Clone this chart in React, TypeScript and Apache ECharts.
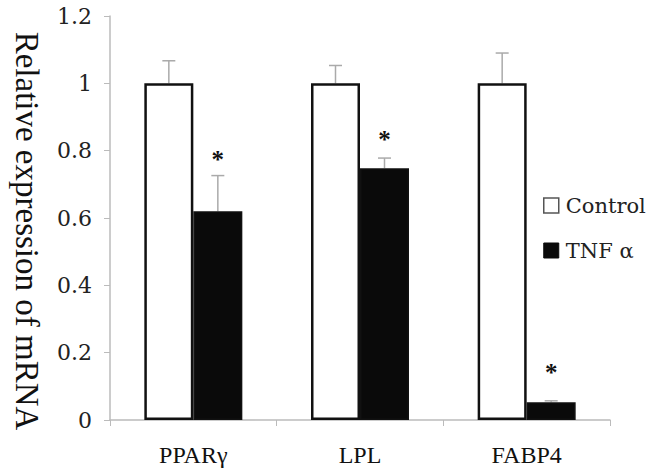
import React, { useEffect, useRef } from "react";
import * as echarts from "echarts";

const categories = ["PPARγ", "LPL", "FABP4"];
const controlValues = [1, 1, 1];
const controlErrors = [0.067, 0.053, 0.09];
const tnfValues = [0.62, 0.748, 0.053];
const tnfErrors = [0.106, 0.03, 0.004];
const starValues = [0.773, 0.832, 0.14];
const yTicks = [0, 0.2, 0.4, 0.6, 0.8, 1, 1.2];

const BAR_W = 49;

export default function App() {
  const ref = useRef<HTMLDivElement>(null);
  useEffect(() => {
    if (!ref.current) return;
    const chart = echarts.init(ref.current, undefined, { renderer: "svg" });

    const errData: number[][] = [];
    categories.forEach((_, i) => {
      errData.push([i, controlValues[i], controlErrors[i], -1]);
      errData.push([i, tnfValues[i], tnfErrors[i], 1]);
    });
    const starData = categories.map((_, i) => [i, starValues[i]]);

    chart.setOption({
      animation: false,
      backgroundColor: "#ffffff",
      grid: { left: 110, right: 53, top: 16, bottom: 52 },
      legend: {
        orient: "vertical",
        left: 543,
        top: 195,
        padding: 0,
        itemWidth: 15,
        itemHeight: 15,
        itemGap: 24,
        icon: "rect",
        textStyle: {
          fontFamily: "DejaVu Serif",
          fontSize: 21,
          color: "#222",
          padding: [0, 0, 0, 2],
        },
        data: [
          {
            name: "Control",
            itemStyle: { color: "#fff", borderColor: "#555", borderWidth: 1.5 },
          },
          { name: "TNF α", itemStyle: { color: "#0a0a0a", borderColor: "#0a0a0a", borderWidth: 1 } },
        ],
      },
      graphic: [
        {
          type: "text",
          x: 27,
          y: 231,
          rotation: -Math.PI / 2,
          style: {
            text: "Relative expression of mRNA",
            fontFamily: "Liberation Serif",
            fontSize: 33,
            fill: "#111",
            align: "center",
            verticalAlign: "middle",
          },
        },
      ],
      xAxis: {
        type: "category",
        data: categories,
        boundaryGap: true,
        axisLine: { lineStyle: { color: "#bbbbbb", width: 1.5 } },
        axisTick: { show: true, length: 6, alignWithLabel: false, lineStyle: { color: "#bbbbbb" } },
        axisLabel: {
          fontFamily: "Liberation Serif",
          fontSize: 24,
          color: "#111",
          margin: 23,
        },
      },
      yAxis: {
        type: "value",
        min: 0,
        max: 1.2,
        interval: 0.2,
        splitLine: { show: false },
        axisLine: { show: true, lineStyle: { color: "#bbbbbb", width: 1.5 } },
        axisTick: { show: true, length: 6, lineStyle: { color: "#bbbbbb" } },
        axisLabel: {
          fontFamily: "DejaVu Serif",
          fontSize: 22,
          color: "#222",
          margin: 18,
          formatter: (v: number) => {
            const t = yTicks.find((x) => Math.abs(x - v) < 1e-6);
            return t === undefined ? "" : String(Number(t.toFixed(1)));
          },
        },
      },
      series: [
        {
          name: "Control",
          type: "bar",
          data: controlValues,
          barWidth: BAR_W,
          barGap: "0%",
          itemStyle: { color: "#ffffff", borderColor: "#111", borderWidth: 2.5 },
        },
        {
          name: "TNF α",
          type: "bar",
          data: tnfValues,
          barWidth: BAR_W,
          barGap: "0%",
          itemStyle: { color: "#0a0a0a", borderColor: "#111", borderWidth: 1.5 },
        },
        {
          type: "custom",
          data: errData,
          z: 1,
          renderItem: (params: any, api: any) => {
            const idx = api.value(0);
            const val = api.value(1);
            const err = api.value(2);
            const side = api.value(3);
            const base = api.coord([idx, val]);
            const top = api.coord([idx, val + err]);
            const x = base[0] + (side * BAR_W) / 2;
            const style = { stroke: "#aaaaaa", lineWidth: 1.5 };
            return {
              type: "group",
              children: [
                { type: "line", shape: { x1: x, y1: base[1], x2: x, y2: top[1] }, style },
                { type: "line", shape: { x1: x - 6.5, y1: top[1], x2: x + 6.5, y2: top[1] }, style },
              ],
            };
          },
        },
        {
          type: "custom",
          data: starData,
          renderItem: (params: any, api: any) => {
            const idx = api.value(0);
            const val = api.value(1);
            const p = api.coord([idx, val]);
            return {
              type: "text",
              x: p[0] + BAR_W / 2,
              y: p[1],
              style: {
                text: "*",
                fontFamily: "Liberation Serif",
                fontSize: 25,
                fontWeight: "bold",
                fill: "#111",
                align: "center",
                verticalAlign: "middle",
              },
            };
          },
        },
      ],
    });
    return () => chart.dispose();
  }, []);

  return (
    <div
      ref={ref}
      style={{ position: "fixed", left: 0, top: 0, width: 663, height: 472, background: "#fff" }}
    />
  );
}
